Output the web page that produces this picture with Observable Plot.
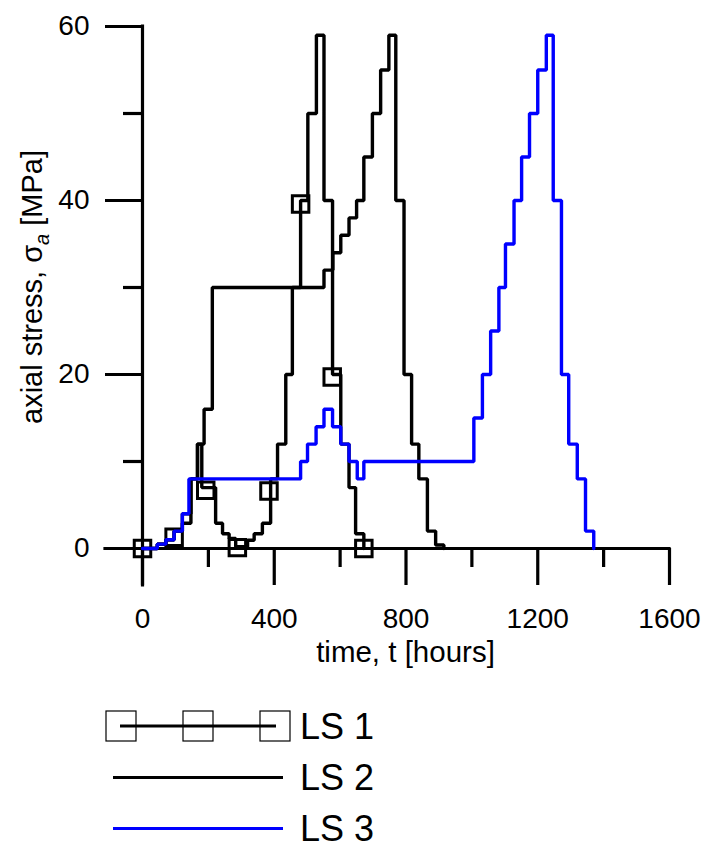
<!DOCTYPE html>
<html>
<head>
<meta charset="utf-8">
<script src="https://cdn.jsdelivr.net/npm/d3@7"></script>
<script src="https://cdn.jsdelivr.net/npm/@observablehq/plot@0.6"></script>
<style>
  body { margin: 0; background: #fff; font-family: Arial, "Liberation Sans", sans-serif; }
  #chart svg { display: block; }
</style>
</head>
<body>
<div id="chart"></div>
<script>
// ---- data ----
const seriesNames = ["LS 1", "LS 2", "LS 3"];

// LS 1 : step changes (time in hours, axial stress in MPa)
const ls1Times  = [0,45,71,96,121,147,167,180,222,243,263,283,319,339,364,389,410,435,455,480,502,528,551,577,602,627,647,672];
const ls1Stress = [0,0.5,1,2,2.9,8,12,7,2.9,1.7,1.15,0.2,0.95,1.7,2.9,8,12,20,30,40,50,59,40,20,12,7,1.7,0];
// LS 1 markers
const ls1MarkTimes  = [0,96,192,288,384,480,576,672];
const ls1MarkStress = [0,1.3,6.7,0.1,6.6,39.6,19.7,0];

// LS 2
const ls2Times  = [0,45,71,96,121,147,167,187,212,551,578,602,627,650,672,698,723,748,769,794,817,839,865,890,915];
const ls2Stress = [0,0.5,1,2,4,8,12,16,30,32,34,36,38,40,45,50,55,59,40,20,12,8,2,0.4,0];

// LS 3
const ls3Times  = [0,45,71,96,121,141,480,501,527,551,577,602,627,652,672,1006,1032,1057,1082,1102,1128,1151,1175,1200,1226,1247,1272,1294,1320,1345,1370];
const ls3Stress = [0,0.5,1,2,4,8,10,12,14,16,14,12,10,8,10,15,20,25,30,35,40,45,50,55,59,40,20,12,8,2,0];

// axis ticks
const xMajor = [0,400,800,1200,1600];
const xMinor = [200,600,1000,1400];
const yMajor = [0,20,40,60];
const yMinor = [10,30,50];

const xTitle = "time, t [hours]";

// ---- build tables ----
const rows = (ts, vs) => ts.map((t, i) => ({t, v: vs[i]}));
const ls1 = rows(ls1Times, ls1Stress);
const ls1m = rows(ls1MarkTimes, ls1MarkStress);
const ls2 = rows(ls2Times, ls2Stress);
const ls3 = rows(ls3Times, ls3Stress);

const FONT = 'Arial, "Liberation Sans", sans-serif';
const LW = 3.4;   // data line width
const AW = 3.2;   // axis line width

const plot = Plot.plot({
  width: 703,
  height: 690,
  marginLeft: 142,
  marginRight: 34,
  marginTop: 26,
  marginBottom: 142,
  style: {fontFamily: FONT, fontSize: "28px", color: "black", background: "white"},
  x: {domain: [0, 1600], label: null},
  y: {domain: [0, 60], label: null},
  marks: [
    Plot.axisX({ticks: xMajor, tickSize: 37, tickPadding: 23, strokeWidth: AW, fontSize: 28, tickFormat: d => String(d), label: null}),
    Plot.axisX({ticks: xMinor, tickSize: 19, strokeWidth: AW, tickFormat: () => "", label: null}),
    Plot.axisY({ticks: yMajor, tickSize: 37, tickPadding: 16, strokeWidth: AW, fontSize: 28, tickFormat: d => String(d), label: null}),
    Plot.axisY({ticks: yMinor, tickSize: 19, strokeWidth: AW, tickFormat: () => "", label: null}),
    Plot.ruleY([0], {insetLeft: -37, strokeWidth: AW, strokeLinecap: "square"}),
    Plot.ruleX([0], {insetBottom: -37, strokeWidth: AW, strokeLinecap: "square"}),
    Plot.line(ls2, {x: "t", y: "v", curve: "step-after", stroke: "black", strokeWidth: LW, strokeLinejoin: "miter"}),
    Plot.line(ls1, {x: "t", y: "v", curve: "step-after", stroke: "black", strokeWidth: LW, strokeLinejoin: "miter"}),
    Plot.dot(ls1m, {x: "t", y: "v", symbol: "square", r: 9.3, stroke: "black", strokeWidth: 3, fill: "none"}),
    Plot.line(ls3, {x: "t", y: "v", curve: "step-after", stroke: "#0000ff", strokeWidth: LW, strokeLinejoin: "miter"})
  ]
});

// ---- axis titles ----
const svg = d3.select(plot);
const xs = plot.scale("x"), ys = plot.scale("y");
svg.append("text")
  .attr("x", xs.apply(800))
  .attr("y", ys.apply(0) + 114)
  .attr("text-anchor", "middle")
  .attr("font-family", FONT)
  .attr("font-size", 29.5)
  .attr("fill", "black")
  .text(xTitle);

const yMid = (ys.apply(0) + ys.apply(60)) / 2;
const yt = svg.append("text")
  .attr("transform", `translate(42,${yMid}) rotate(-90)`)
  .attr("text-anchor", "middle")
  .attr("font-family", FONT)
  .attr("font-size", 29)
  .attr("fill", "black");
yt.append("tspan").text("axial stress, σ");
yt.append("tspan").attr("font-style", "italic").attr("font-size", 20).attr("dy", 7).text("a");
yt.append("tspan").attr("dy", -7).text(" [MPa]");

document.getElementById("chart").appendChild(plot);

// ---- legend below the chart ----
const leg = d3.create("svg").attr("width", 703).attr("height", 158)
  .style("display", "block").style("background", "white");
const legRows = [
  {name: seriesNames[0], stroke: "black", y: 36, x1: 120, x2: 276, marks: [121, 198, 275]},
  {name: seriesNames[1], stroke: "black", y: 87.5, x1: 113, x2: 283, marks: []},
  {name: seriesNames[2], stroke: "#0000ff", y: 138.5, x1: 113, x2: 283, marks: []}
];
for (const r of legRows) {
  leg.append("line").attr("x1", r.x1).attr("x2", r.x2).attr("y1", r.y).attr("y2", r.y)
    .attr("stroke", r.stroke).attr("stroke-width", 3);
  for (const mx of r.marks) {
    leg.append("rect").attr("x", mx - 15).attr("y", r.y - 15).attr("width", 30).attr("height", 30)
      .attr("fill", "none").attr("stroke", "black").attr("stroke-width", 1.2);
  }
  leg.append("text").attr("x", 300).attr("y", r.y + 12.5)
    .attr("font-family", FONT).attr("font-size", 36).attr("fill", "black").text(r.name);
}
document.getElementById("chart").appendChild(leg.node());
</script>
</body>
</html>
